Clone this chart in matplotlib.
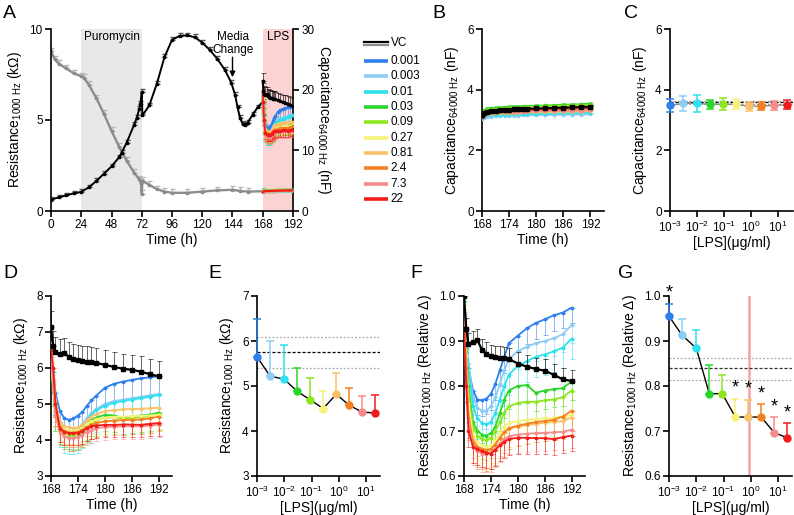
import numpy as np
import matplotlib
matplotlib.use("Agg")
import matplotlib.pyplot as plt
from matplotlib.ticker import NullLocator, FixedLocator

plt.rcParams['font.family'] = ['Liberation Sans', 'DejaVu Sans']
plt.rcParams['mathtext.fontset'] = 'custom'
plt.rcParams['mathtext.rm'] = 'Liberation Sans'
plt.rcParams['mathtext.it'] = 'Liberation Sans:italic'
plt.rcParams['mathtext.bf'] = 'Liberation Sans:bold'

# ---------------- data ----------------
conc_labels = ["0.001", "0.003", "0.01", "0.03", "0.09", "0.27", "0.81", "2.4", "7.3", "22"]
conc = [0.001, 0.003, 0.01, 0.03, 0.09, 0.27, 0.81, 2.4, 7.3, 22]
colors = ["#2f80ed", "#8ccdf5", "#2fe0ee", "#2bd62b", "#8ee61e",
          "#f6f27a", "#f9c268", "#f5801f", "#f68c8c", "#f21b1b"]

# Panel A, pre-LPS (0-168 h)
tA_res = [0, 6, 12, 18, 24, 30, 36, 42, 48, 54, 56, 60, 66, 68, 70, 71, 72, 72.5, 78, 84, 90, 96,
          102, 108, 114, 120, 126, 132, 138, 143, 146, 148, 150, 152, 154, 156, 160, 164, 168]
resA_vc = [0.62, 0.75, 0.86, 0.97, 1.05, 1.3, 1.65, 2.05, 2.45, 2.95, 3.2, 3.75, 4.75, 5.1, 5.6, 5.9,
           6.55, 5.25, 5.8, 7.0, 8.45, 9.4, 9.62, 9.65, 9.55, 9.25, 8.85, 8.35, 7.75, 7.05,
           6.4, 5.7, 5.1, 4.8, 4.75, 4.85, 5.3, 5.7, 6.0]
tA_cap = [0, 3, 6, 12, 18, 24, 26, 30, 36, 42, 48, 54, 60, 66, 70, 71.5, 72, 72.5, 78, 84, 90, 96,
          108, 120, 132, 144, 150, 156, 168]
capA_vc = [26.3, 25.0, 24.3, 23.5, 22.7, 22.2, 22.0, 20.8, 18.6, 16.0, 13.2, 10.6, 8.3, 6.3, 5.2,
           4.6, 2.8, 5.0, 4.3, 3.6, 3.2, 3.0, 3.0, 3.2, 3.4, 3.5, 3.3, 3.2, 3.25]

# Post-LPS time series (168-192 h)
T = [168, 168.5, 169, 170, 171, 172, 173, 174, 175, 176, 177, 178, 180, 182, 184, 186, 188, 190, 192]

resD_vc = [7.15, 6.6, 6.45, 6.38, 6.42, 6.3, 6.25, 6.22, 6.2, 6.18, 6.16, 6.14, 6.09, 6.03, 5.98, 5.95, 5.9, 5.83, 5.77]
resD = [
    [6.3, 5.9, 5.3, 4.8, 4.6, 4.56, 4.6, 4.68, 4.78, 4.95, 5.1, 5.22, 5.45, 5.56, 5.62, 5.67, 5.71, 5.74, 5.77],
    [6.4, 5.8, 5.0, 4.5, 4.3, 4.25, 4.25, 4.3, 4.45, 4.6, 4.75, 4.85, 5.0, 5.08, 5.12, 5.16, 5.2, 5.24, 5.28],
    [6.2, 5.6, 4.9, 4.4, 4.25, 4.2, 4.2, 4.25, 4.38, 4.55, 4.7, 4.82, 4.95, 5.03, 5.08, 5.12, 5.16, 5.2, 5.25],
    [6.0, 5.4, 4.7, 4.35, 4.25, 4.2, 4.18, 4.2, 4.3, 4.45, 4.55, 4.62, 4.7, 4.68, 4.62, 4.65, 4.68, 4.7, 4.76],
    [6.1, 5.4, 4.7, 4.3, 4.2, 4.15, 4.15, 4.17, 4.25, 4.38, 4.48, 4.55, 4.62, 4.63, 4.6, 4.62, 4.64, 4.66, 4.72],
    [6.2, 5.5, 4.8, 4.4, 4.3, 4.25, 4.25, 4.28, 4.35, 4.45, 4.52, 4.57, 4.62, 4.64, 4.65, 4.66, 4.67, 4.68, 4.7],
    [6.7, 6.0, 5.1, 4.5, 4.38, 4.35, 4.33, 4.35, 4.43, 4.55, 4.65, 4.72, 4.8, 4.83, 4.85, 4.86, 4.87, 4.88, 4.9],
    [6.4, 5.7, 4.8, 4.35, 4.25, 4.2, 4.2, 4.22, 4.28, 4.36, 4.42, 4.47, 4.52, 4.54, 4.55, 4.56, 4.57, 4.6, 4.65],
    [6.3, 5.5, 4.7, 4.2, 4.1, 4.05, 4.05, 4.08, 4.15, 4.22, 4.28, 4.32, 4.36, 4.37, 4.38, 4.38, 4.38, 4.4, 4.42],
    [6.5, 6.0, 5.0, 4.3, 4.22, 4.2, 4.2, 4.2, 4.25, 4.32, 4.38, 4.4, 4.42, 4.42, 4.43, 4.43, 4.42, 4.45, 4.47],
]
semD_vc = 0.42
semD = [0.5, 0.5, 0.6, 0.45, 0.45, 0.4, 0.45, 0.4, 0.35, 0.35]

relF_vc = [1.0, 0.926, 0.893, 0.898, 0.902, 0.88, 0.872, 0.867, 0.865, 0.863, 0.862, 0.86, 0.85, 0.843, 0.838, 0.834, 0.825, 0.815, 0.811]
relF = [
    [1.0, 0.92, 0.84, 0.79, 0.77, 0.768, 0.772, 0.782, 0.805, 0.835, 0.865, 0.895, 0.912, 0.928, 0.94, 0.948, 0.957, 0.963, 0.974],
    [1.0, 0.93, 0.85, 0.775, 0.752, 0.745, 0.745, 0.755, 0.775, 0.805, 0.835, 0.86, 0.877, 0.887, 0.895, 0.9, 0.906, 0.915, 0.935],
    [1.0, 0.93, 0.84, 0.755, 0.728, 0.718, 0.715, 0.72, 0.74, 0.77, 0.8, 0.825, 0.845, 0.855, 0.865, 0.87, 0.877, 0.885, 0.905],
    [0.99, 0.9, 0.8, 0.72, 0.7, 0.692, 0.69, 0.695, 0.71, 0.74, 0.77, 0.79, 0.8, 0.802, 0.785, 0.79, 0.793, 0.795, 0.81],
    [0.98, 0.88, 0.78, 0.71, 0.69, 0.682, 0.68, 0.685, 0.7, 0.72, 0.74, 0.755, 0.762, 0.765, 0.765, 0.768, 0.77, 0.775, 0.79],
    [0.98, 0.87, 0.76, 0.69, 0.675, 0.668, 0.665, 0.668, 0.68, 0.695, 0.71, 0.718, 0.722, 0.725, 0.727, 0.728, 0.73, 0.732, 0.735],
    [0.97, 0.85, 0.74, 0.68, 0.665, 0.66, 0.658, 0.66, 0.67, 0.685, 0.697, 0.705, 0.71, 0.713, 0.716, 0.718, 0.72, 0.722, 0.73],
    [0.96, 0.84, 0.73, 0.675, 0.665, 0.66, 0.657, 0.66, 0.67, 0.685, 0.697, 0.706, 0.712, 0.716, 0.72, 0.722, 0.725, 0.732, 0.745],
    [0.95, 0.82, 0.72, 0.665, 0.655, 0.65, 0.648, 0.65, 0.66, 0.672, 0.682, 0.688, 0.692, 0.694, 0.695, 0.696, 0.697, 0.698, 0.703],
    [0.93, 0.8, 0.7, 0.665, 0.66, 0.655, 0.652, 0.65, 0.658, 0.668, 0.676, 0.682, 0.685, 0.685, 0.684, 0.684, 0.682, 0.686, 0.69],
]
semF_vc = 0.025
semF = [0.035, 0.04, 0.045, 0.04, 0.045, 0.04, 0.04, 0.045, 0.04, 0.035]

capB_vc = [3.15, 3.24, 3.28, 3.30, 3.31, 3.32, 3.33, 3.34, 3.35, 3.36, 3.36, 3.37, 3.38, 3.39, 3.40, 3.41, 3.42, 3.43, 3.44]
capB = [
    [3.12, 3.2, 3.24, 3.26, 3.27, 3.28, 3.28, 3.29, 3.3, 3.3, 3.31, 3.31, 3.32, 3.33, 3.34, 3.34, 3.35, 3.36, 3.37],
    [3.02, 3.08, 3.1, 3.11, 3.12, 3.12, 3.13, 3.13, 3.14, 3.14, 3.15, 3.15, 3.16, 3.16, 3.17, 3.17, 3.18, 3.18, 3.19],
    [3.05, 3.12, 3.15, 3.16, 3.17, 3.17, 3.18, 3.18, 3.19, 3.19, 3.2, 3.2, 3.21, 3.21, 3.22, 3.22, 3.23, 3.23, 3.24],
    [3.2, 3.32, 3.37, 3.39, 3.4, 3.41, 3.42, 3.43, 3.44, 3.44, 3.45, 3.46, 3.47, 3.48, 3.49, 3.5, 3.51, 3.52, 3.54],
    [3.18, 3.29, 3.34, 3.36, 3.37, 3.38, 3.39, 3.4, 3.41, 3.41, 3.42, 3.43, 3.44, 3.45, 3.46, 3.47, 3.48, 3.49, 3.5],
    [3.12, 3.2, 3.24, 3.25, 3.26, 3.27, 3.27, 3.28, 3.28, 3.29, 3.29, 3.3, 3.3, 3.31, 3.31, 3.32, 3.32, 3.33, 3.33],
    [3.1, 3.17, 3.2, 3.21, 3.22, 3.22, 3.23, 3.23, 3.24, 3.24, 3.25, 3.25, 3.26, 3.26, 3.27, 3.27, 3.28, 3.28, 3.29],
    [3.12, 3.2, 3.24, 3.25, 3.26, 3.27, 3.27, 3.28, 3.28, 3.29, 3.29, 3.3, 3.3, 3.31, 3.31, 3.32, 3.32, 3.33, 3.34],
    [3.1, 3.18, 3.22, 3.24, 3.25, 3.25, 3.26, 3.26, 3.27, 3.27, 3.28, 3.28, 3.29, 3.29, 3.3, 3.3, 3.31, 3.31, 3.32],
    [3.1, 3.2, 3.25, 3.27, 3.28, 3.29, 3.3, 3.31, 3.32, 3.33, 3.33, 3.34, 3.35, 3.36, 3.37, 3.38, 3.39, 3.4, 3.42],
]
semB = 0.05

# Panel C (capacitance at 192 h)
capC = [3.48, 3.55, 3.55, 3.52, 3.52, 3.52, 3.45, 3.46, 3.48, 3.50]
capC_sem = [0.22, 0.25, 0.27, 0.15, 0.19, 0.16, 0.15, 0.14, 0.16, 0.15]
capC_vc, capC_vc_lo, capC_vc_hi = 3.58, 3.54, 3.62

# Panel E (resistance at 192 h)
resE = [5.65, 5.22, 5.15, 4.88, 4.69, 4.50, 4.82, 4.57, 4.42, 4.40]
resE_sem = [0.83, 0.78, 0.76, 0.53, 0.48, 0.38, 0.48, 0.38, 0.36, 0.39]
resE_vc, resE_vc_lo, resE_vc_hi = 5.75, 5.40, 6.08

# Panel G (relative resistance at 192 h)
relG = [0.955, 0.913, 0.884, 0.783, 0.783, 0.731, 0.731, 0.731, 0.696, 0.685]
relG_sem = [0.028, 0.035, 0.04, 0.063, 0.041, 0.041, 0.039, 0.028, 0.035, 0.033]
relG_sig = [True, False, False, False, False, True, True, True, True, True]
relG_vc, relG_vc_lo, relG_vc_hi = 0.839, 0.814, 0.863
ec50_G = 0.86

# ---------------- figure ----------------
W, H = 794, 515
fig = plt.figure(figsize=(W / 100, H / 100), dpi=100)


def box(l, t, r, b):
    return [l / W, 1 - b / H, (r - l) / W, (b - t) / H]


TICK_FS = 8.5
LAB_FS = 10


def style(ax):
    for s in ['top', 'right']:
        ax.spines[s].set_visible(False)
    for s in ['left', 'bottom', 'right']:
        ax.spines[s].set_linewidth(1.2)
    ax.tick_params(direction='out', length=4, width=1.2, labelsize=TICK_FS, pad=2)


def ts(ax, t, y, sem, up, color, lw=1.3, ms=2.2, z=3, ealpha=0.55):
    y = np.asarray(y)
    e = np.full(len(y), sem)
    lo = np.zeros(len(y)) if up else e
    hi = e if up else np.zeros(len(y))
    ax.errorbar(t, y, yerr=[lo, hi], fmt='none', ecolor=color, elinewidth=0.7,
                capsize=1.8, capthick=0.7, alpha=ealpha, zorder=z - 1)
    ax.plot(t, y, '-', color=color, lw=lw, marker='s', ms=ms, zorder=z)


# ---------- Panel A ----------
axA = fig.add_axes(box(51, 29, 293, 211))
style(axA)
axA.spines['right'].set_visible(False)
axA.set_xlim(0, 192)
axA.set_ylim(0, 10)
axA.set_xticks(range(0, 193, 24))
axA.set_yticks([0, 5, 10])
axA.set_xlabel('Time (h)', fontsize=LAB_FS, labelpad=1)
axA.set_ylabel('Resistance$_{\\mathregular{1000\\ Hz}}$ (k\u03a9)', fontsize=LAB_FS, labelpad=4)

axA2 = axA.twinx()
axA2.set_ylim(0, 30)
axA2.set_yticks([0, 10, 20, 30])
for s in ['top', 'left', 'bottom']:
    axA2.spines[s].set_visible(False)
axA2.spines['right'].set_linewidth(1.2)
axA2.tick_params(direction='out', length=4, width=1.2, labelsize=TICK_FS, pad=2)
axA2.set_ylabel('Capacitance$_{\\mathregular{64000\\ Hz}}$ (nF)', fontsize=LAB_FS,
                rotation=270, labelpad=13)
# shading on the lower (twin) axes so that all curves sit on top of it
axA2.axvspan(24, 72, color='#e8e8e8', lw=0, zorder=0)
axA2.axvspan(168, 192, color='#fbd3d3', lw=0, zorder=0)

# capacitance (grey)
axA2.errorbar(tA_cap, capA_vc, yerr=[np.zeros(len(capA_vc)), np.full(len(capA_vc), 0.6)],
              fmt='none', ecolor='#b5b5b5', elinewidth=0.7, capsize=1.8, zorder=2)
axA2.plot(tA_cap, capA_vc, '-', color='#8c8c8c', lw=1.7, marker='s', ms=2, zorder=3)
ts(axA2, T, capB_vc, 0.1, True, '#8c8c8c', lw=1.7, ms=2, z=3)
for i in range(10):
    axA2.plot(T, capB[i], '-', color=colors[i], lw=1.6, zorder=4)
# resistance (black)
axA.errorbar(tA_res, resA_vc, yerr=[np.zeros(len(resA_vc)), np.full(len(resA_vc), 0.15)],
             fmt='none', ecolor='#555555', elinewidth=0.7, capsize=1.8, zorder=2)
axA.plot(tA_res, resA_vc, '-', color='black', lw=1.4, marker='s', ms=2, zorder=3)
for i in range(10):
    ts(axA, T, resD[i], semD[i], False, colors[i], lw=1.2, ms=1.5, z=4, ealpha=0.5)
ts(axA, T, resD_vc, semD_vc, True, 'black', lw=1.4, ms=2, z=5, ealpha=0.6)
axA.set_zorder(axA2.get_zorder() + 1)
axA.patch.set_visible(False)
axA2.patch.set_visible(True)
axA.text(48, 9.55, 'Puromycin', ha='center', va='center', fontsize=8.5)
axA.text(180, 9.55, 'LPS', ha='center', va='center', fontsize=8.5)
axA.text(144.5, 9.2, 'Media\nChange', ha='center', va='center', fontsize=8.5, linespacing=1.1)
axA.annotate('', xy=(144, 7.2), xytext=(144, 8.6),
             arrowprops=dict(arrowstyle='-|>', color='black', lw=1.0, mutation_scale=8))

# legend
axL = fig.add_axes(box(360, 35, 430, 205))
axL.set_xlim(360, 430)
axL.set_ylim(205, 35)
axL.axis('off')
axL.plot([364, 388], [41.8, 41.8], color='black', lw=1.6)
axL.plot([364, 388], [45.2, 45.2], color='#8c8c8c', lw=1.6)
axL.text(390.5, 43.5, 'VC', va='center', ha='left', fontsize=8.5)
for i in range(10):
    yy = 61 + 15.35 * i
    axL.plot([364, 388], [yy, yy], color=colors[i], lw=2.6, solid_capstyle='butt')
    axL.text(390.5, yy, conc_labels[i], va='center', ha='left', fontsize=8.5)

# ---------- Panel B ----------
axB = fig.add_axes(box(482, 29, 604, 211))
style(axB)
for i in range(10):
    ts(axB, T, capB[i], semB, True, colors[i], lw=1.3, ms=1.8, z=3, ealpha=0.6)
ts(axB, T, capB_vc, semB, True, 'black', lw=1.4, ms=2.4, z=5, ealpha=0.9)
axB.set_xlim(168, 195)
axB.set_xticks([168, 174, 180, 186, 192])
axB.set_ylim(0, 6)
axB.set_yticks([0, 2, 4, 6])
axB.set_xlabel('Time (h)', fontsize=LAB_FS, labelpad=1)
axB.set_ylabel('Capacitance$_{\\mathregular{64000\\ Hz}}$ (nF)', fontsize=LAB_FS, labelpad=4)


def dose_axes(ax):
    style(ax)
    ax.set_xscale('log')
    ax.set_xlim(1e-3, 10 ** 1.555)
    ax.xaxis.set_major_locator(FixedLocator([1e-3, 1e-2, 1e-1, 1, 10]))
    ax.xaxis.set_minor_locator(NullLocator())
    ax.set_xlabel('[LPS](\u03bcg/ml)', fontsize=LAB_FS, labelpad=1)


# ---------- Panel C ----------
axC = fig.add_axes(box(670, 29, 793, 211))
dose_axes(axC)
axC.axhline(capC_vc_hi, color='#999999', lw=0.9, ls=(0, (1.5, 1.5)), zorder=1)
axC.axhline(capC_vc_lo, color='#999999', lw=0.9, ls=(0, (1.5, 1.5)), zorder=1)
axC.axhline(capC_vc, color='black', lw=0.9, ls=(0, (2.5, 1.5)), zorder=1)
axC.plot(conc, capC, '-', color='#8a8a8a', lw=1.0, zorder=2)
for i in range(10):
    axC.errorbar(conc[i], capC[i], yerr=capC_sem[i], fmt='o', color=colors[i], ms=5,
                 elinewidth=1.1, capsize=3, capthick=1.1, zorder=3, clip_on=False)
axC.set_ylim(0, 6)
axC.set_yticks([0, 2, 4, 6])
axC.set_ylabel('Capacitance$_{\\mathregular{64000\\ Hz}}$ (nF)', fontsize=LAB_FS, labelpad=4)

# ---------- Panel D ----------
axD = fig.add_axes(box(51, 296, 172, 476))
style(axD)
for i in range(10):
    ts(axD, T, resD[i], semD[i], False, colors[i], lw=1.3, ms=2, z=3 + i * 0.01, ealpha=0.55)
ts(axD, T, resD_vc, semD_vc, True, 'black', lw=1.6, ms=2.4, z=5, ealpha=0.6)
axD.set_xlim(168, 195)
axD.set_xticks([168, 174, 180, 186, 192])
axD.set_ylim(3, 8)
axD.set_yticks([3, 4, 5, 6, 7, 8])
axD.set_xlabel('Time (h)', fontsize=LAB_FS, labelpad=1)
axD.set_ylabel('Resistance$_{\\mathregular{1000\\ Hz}}$ (k\u03a9)', fontsize=LAB_FS, labelpad=4)

# ---------- Panel E ----------
axE = fig.add_axes(box(257, 296, 380, 476))
dose_axes(axE)
axE.set_xlim(1e-3, 10 ** 1.51)
axE.axhline(resE_vc_hi, color='#aaaaaa', lw=0.9, ls=(0, (1.5, 1.5)), zorder=1)
axE.axhline(resE_vc_lo, color='#aaaaaa', lw=0.9, ls=(0, (1.5, 1.5)), zorder=1)
axE.axhline(resE_vc, color='black', lw=0.9, ls=(0, (2.5, 1.5)), zorder=1)
axE.plot(conc, resE, '-', color='black', lw=1.0, zorder=2)
for i in range(10):
    axE.errorbar(conc[i], resE[i], yerr=[[0], [resE_sem[i]]], fmt='o', color=colors[i], ms=5,
                 elinewidth=1.1, capsize=3, capthick=1.1, zorder=3, clip_on=False)
axE.set_ylim(3, 7)
axE.set_yticks([3, 4, 5, 6, 7])
axE.set_ylabel('Resistance$_{\\mathregular{1000\\ Hz}}$ (k\u03a9)', fontsize=LAB_FS, labelpad=4)

# ---------- Panel F ----------
axF = fig.add_axes(box(464, 296, 585, 476))
style(axF)
for i in range(10):
    ts(axF, T, relF[i], semF[i], False, colors[i], lw=1.3, ms=2, z=3, ealpha=0.55)
ts(axF, T, relF_vc, semF_vc, True, 'black', lw=1.6, ms=2.4, z=5, ealpha=0.6)
axF.set_xlim(168, 195)
axF.set_xticks([168, 174, 180, 186, 192])
axF.set_ylim(0.6, 1.0)
axF.set_yticks([0.6, 0.7, 0.8, 0.9, 1.0])
axF.set_xlabel('Time (h)', fontsize=LAB_FS, labelpad=1)
axF.set_ylabel('Resistance$_{\\mathregular{1000\\ Hz}}$ (Relative \u0394)', fontsize=LAB_FS, labelpad=4)

# ---------- Panel G ----------
axG = fig.add_axes(box(669, 296, 792, 476))
dose_axes(axG)
axG.set_xlim(1e-3, 10 ** 1.51)
axG.axvline(ec50_G, color='#f5a3a3', lw=1.8, zorder=1)
axG.axhline(relG_vc_hi, color='#aaaaaa', lw=0.9, ls=(0, (1.5, 1.5)), zorder=1)
axG.axhline(relG_vc_lo, color='#aaaaaa', lw=0.9, ls=(0, (1.5, 1.5)), zorder=1)
axG.axhline(relG_vc, color='#333333', lw=0.9, ls=(0, (2.5, 1.5)), zorder=1)
axG.plot(conc, relG, '-', color='black', lw=1.0, zorder=2)
for i in range(10):
    axG.errorbar(conc[i], relG[i], yerr=[[0], [relG_sem[i]]], fmt='o', color=colors[i], ms=5,
                 elinewidth=1.1, capsize=3, capthick=1.1, zorder=3, clip_on=False)
    if relG_sig[i]:
        axG.text(conc[i], relG[i] + relG_sem[i] + 0.004, '*', ha='center', va='bottom',
                 fontsize=13, clip_on=False)
axG.set_ylim(0.6, 1.0)
axG.set_yticks([0.6, 0.7, 0.8, 0.9, 1.0])
axG.set_ylabel('Resistance$_{\\mathregular{1000\\ Hz}}$ (Relative \u0394)', fontsize=LAB_FS, labelpad=4)

# panel letters
for lab, x, y in [('A', 3, 13), ('B', 432, 13), ('C', 624, 13),
                  ('D', 3, 274), ('E', 208, 274), ('F', 410, 274), ('G', 618, 274)]:
    fig.text(x / W, 1 - y / H, lab, fontsize=14, ha='left', va='center')

fig.savefig('out.png', dpi=100)
